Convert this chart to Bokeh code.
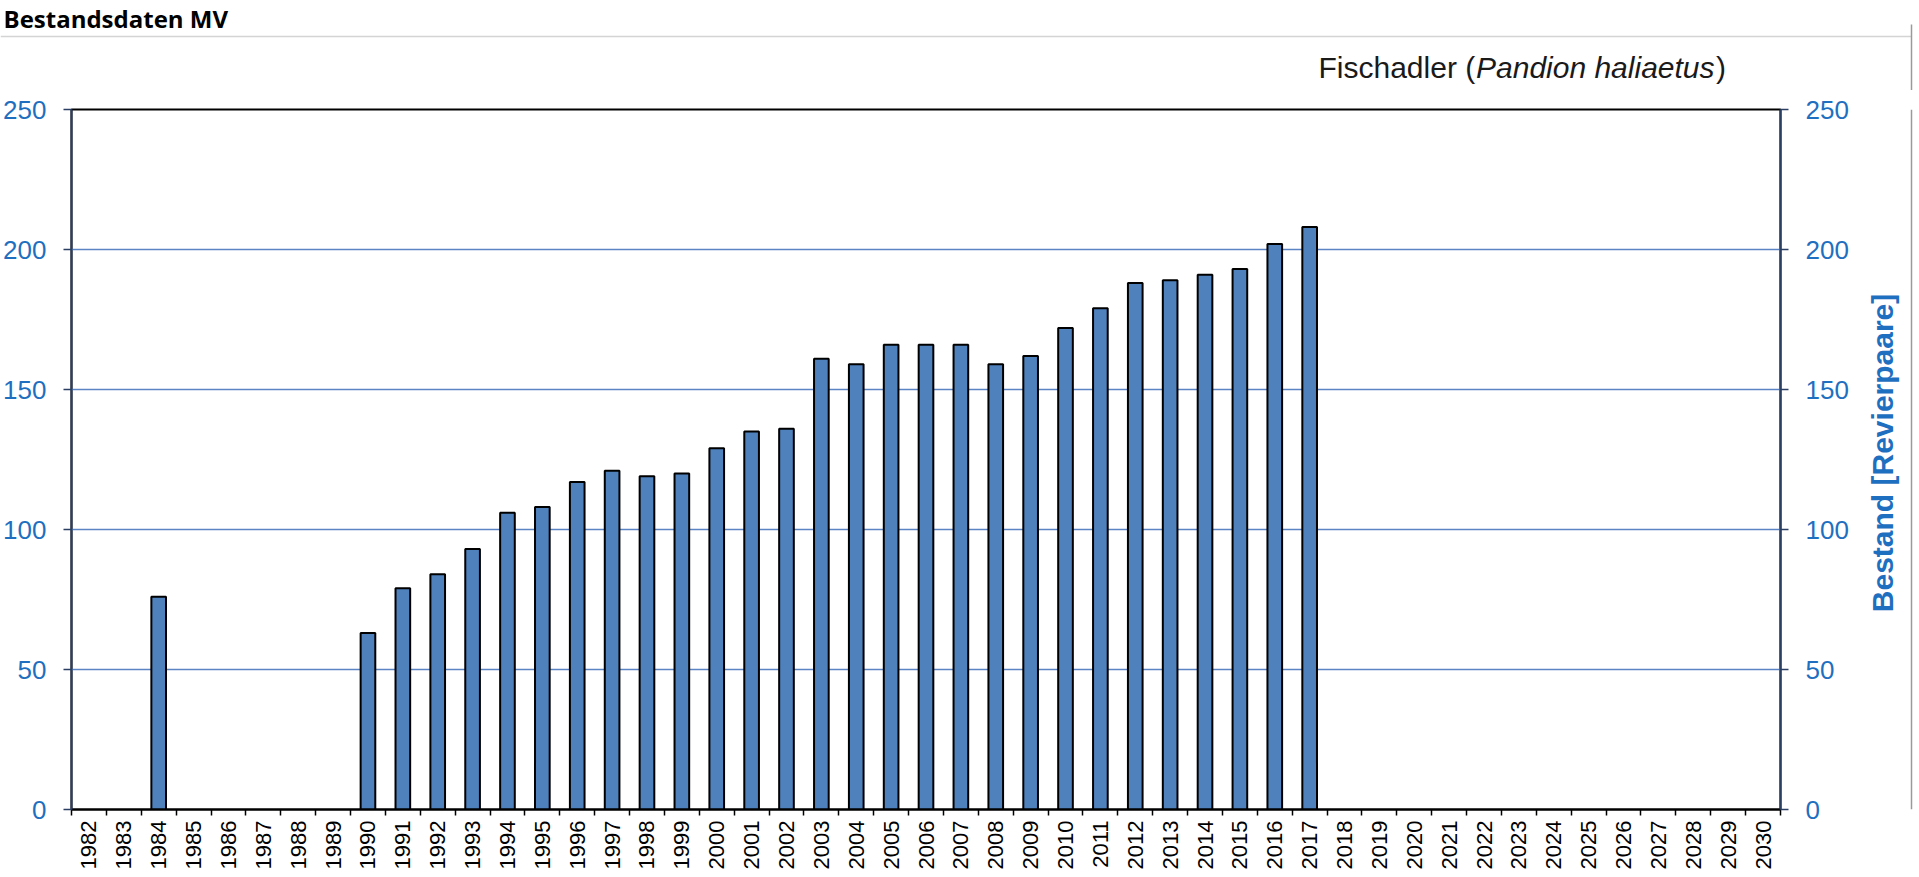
import math
from bokeh.plotting import figure
from bokeh.layouts import column, row
from bokeh.models import FixedTicker, LinearAxis, Range1d, ColumnDataSource
from bokeh.core.properties import value
from bokeh.embed import file_html
from bokeh.resources import INLINE

# ---------------- data ----------------
year_labels = ["1982", "1983", "1984", "1985", "1986", "1987", "1988", "1989", "1990",
               "1991", "1992", "1993", "1994", "1995", "1996", "1997", "1998", "1999",
               "2000", "2001", "2002", "2003", "2004", "2005", "2006", "2007", "2008",
               "2009", "2010", "2011", "2012", "2013", "2014", "2015", "2016", "2017",
               "2018", "2019", "2020", "2021", "2022", "2023", "2024", "2025", "2026",
               "2027", "2028", "2029", "2030"]
data_years = [1984, 1990, 1991, 1992, 1993, 1994, 1995, 1996, 1997, 1998, 1999,
              2000, 2001, 2002, 2003, 2004, 2005, 2006, 2007, 2008, 2009,
              2010, 2011, 2012, 2013, 2014, 2015, 2016, 2017]
pairs = [76, 63, 79, 84, 93, 106, 108, 117, 121, 119, 120,
         129, 135, 136, 161, 159, 166, 166, 166, 159, 162,
         172, 179, 188, 189, 191, 193, 202, 208]
y_ticks = [0, 50, 100, 150, 200, 250]

main_title = "Bestandsdaten MV"
species = "Fischadler ("
species_latin = "Pandion haliaetus"
species_end = ")"
axis_title = "Bestand [Revierpaare]"

# ---------------- layout constants (page pixels) ----------------
W, H = 1919, 877
HEAD_H = 90
FOOT_H = 3
SIDE_X = 1855
SIDE_W = W - SIDE_X
MAIN_W = SIDE_X
MAIN_H = H - HEAD_H - FOOT_H
FL, FR = 71, 1780
FT, FB = 109 - HEAD_H, 809 - HEAD_H

BLUE_TXT = "#1F6FC0"
FONT = "Liberation Sans"
PAGE_LINE = "#D4D4D4"
EDGE_LINE = "#9A9A9A"


def bare(fig):
    fig.background_fill_color = "white"
    fig.border_fill_color = "white"
    fig.outline_line_color = None
    fig.xgrid.visible = False
    fig.ygrid.visible = False
    return fig


def blank(w, h):
    return bare(figure(width=w, height=h, output_backend="svg", toolbar_location=None,
                       x_range=Range1d(0, w), y_range=Range1d(h, 0),
                       x_axis_location=None, y_axis_location=None,
                       min_border=0, min_border_left=0, min_border_right=0,
                       min_border_top=0, min_border_bottom=0))


# ---------------- header (titles) ----------------
head = blank(W, HEAD_H)
head.segment(x0=[0], y0=[36], x1=[1911], y1=[36], line_color=PAGE_LINE, line_width=1.5)
head.segment(x0=[1911], y0=[24], x1=[1911], y1=[HEAD_H], line_color=EDGE_LINE, line_width=1.5)
head.text(x=[3], y=[18], text=[main_title], text_font=value("Open Sans"),
          text_font_style="bold", text_font_size="24px", text_color="black",
          text_baseline="alphabetic", text_align="left")
sx = 1318
w1 = 157.5
w2 = 240
head.text(x=[sx], y=[67], text=[species], text_font=value(FONT),
          text_font_size="30px", text_color="#1a1a1a",
          text_baseline="alphabetic", text_align="left")
head.text(x=[sx + w1], y=[67], text=[species_latin], text_font=value(FONT),
          text_font_style="italic", text_font_size="30px", text_color="#1a1a1a",
          text_baseline="alphabetic", text_align="left")
head.text(x=[sx + w1 + w2], y=[67], text=[species_end], text_font=value(FONT),
          text_font_size="30px", text_color="#1a1a1a",
          text_baseline="alphabetic", text_align="left")

# ---------------- main chart ----------------
tick_pos = [float(s) for s in year_labels]
x0, x1 = tick_pos[0] - 0.5, tick_pos[-1] + 0.5

p = figure(width=MAIN_W, height=MAIN_H, output_backend="svg", toolbar_location=None,
           x_range=Range1d(x0, x1), y_range=Range1d(0, 250),
           min_border_left=FL, min_border_right=MAIN_W - FR,
           min_border_top=FT, min_border_bottom=MAIN_H - FB)
p.background_fill_color = "white"
p.border_fill_color = "white"
p.outline_line_color = "black"
p.outline_line_width = 2

src = ColumnDataSource(dict(x=data_years, top=pairs))
p.vbar(x="x", top="top", width=0.42, bottom=0, source=src,
       fill_color="#4F81BD", line_color="black", line_width=2)

xa = p.xaxis[0]
xa.ticker = FixedTicker(ticks=tick_pos,
                        minor_ticks=[t - 0.5 for t in tick_pos] + [tick_pos[-1] + 0.5])
xa.major_label_overrides = {int(t): s for t, s in zip(tick_pos, year_labels)}
xa.major_tick_out = 0
xa.major_tick_in = 0
xa.minor_tick_out = 6
xa.minor_tick_in = 0
xa.minor_tick_line_color = "black"
xa.minor_tick_line_width = 1.5
xa.axis_line_color = "black"
xa.axis_line_width = 2
xa.major_label_orientation = math.pi / 2
xa.major_label_text_font = FONT
xa.major_label_text_font_size = "22px"
xa.major_label_text_color = "black"
xa.major_label_standoff = 5

yt = FixedTicker(ticks=y_ticks, minor_ticks=[])


def style_y(ax, standoff):
    ax.ticker = yt
    ax.major_tick_out = 8
    ax.major_tick_in = 0
    ax.minor_tick_out = 0
    ax.minor_tick_in = 0
    ax.major_tick_line_color = "#2B3F63"
    ax.major_tick_line_width = 1.5
    ax.axis_line_color = "#2B3F63"
    ax.axis_line_width = 2
    ax.major_label_text_font = FONT
    ax.major_label_text_font_size = "26px"
    ax.major_label_text_color = BLUE_TXT
    ax.major_label_standoff = standoff


style_y(p.yaxis[0], 17)
ra = LinearAxis()
style_y(ra, 17)
p.add_layout(ra, "right")

p.xgrid.visible = False
p.ygrid.ticker = yt
p.ygrid.grid_line_color = "#5B84C4"
p.ygrid.grid_line_width = 1.5

# ---------------- right side (axis title) ----------------
side = blank(SIDE_W, MAIN_H)
side.segment(x0=[1911 - SIDE_X], y0=[0], x1=[1911 - SIDE_X], y1=[MAIN_H],
             line_color=EDGE_LINE, line_width=1.5)
side.text(x=[1882 - SIDE_X], y=[653 - HEAD_H], text=[axis_title], text_font=value(FONT),
          text_font_style="bold", text_font_size="30px", text_color=BLUE_TXT,
          angle=math.pi / 2, text_baseline="middle", text_align="left")

# ---------------- footer (page edge line) ----------------
foot = blank(W, FOOT_H)
foot.segment(x0=[0], y0=[1.5], x1=[1911], y1=[1.5], line_color=PAGE_LINE, line_width=1.5)

layout = column(head, row(p, side, spacing=0), foot, spacing=0)
open("out.html", "w").write(file_html(layout, INLINE))
